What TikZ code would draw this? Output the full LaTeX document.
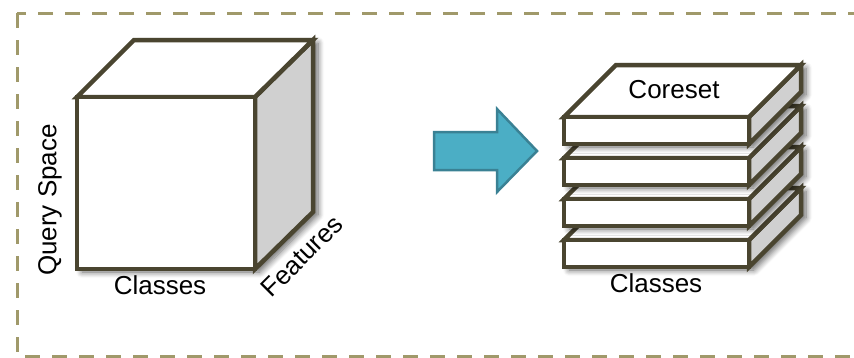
\documentclass[tikz,border=0pt]{standalone}
\usepackage{fontspec}
\setmainfont{Liberation Sans}
\usetikzlibrary{shadows.blur}
\definecolor{edgeol}{HTML}{4A4530}
\definecolor{frameol}{HTML}{A0996A}
\definecolor{sidegray}{HTML}{D0D0D0}
\definecolor{arrowfill}{HTML}{4BAEC5}
\definecolor{arrowedge}{HTML}{3A8194}
\tikzset{
  faceline/.style={draw=edgeol, line width=4.5pt, line join=miter},
  whiteface/.style={faceline, fill=white},
  grayface/.style={faceline, fill=sidegray},
  shadowshape/.style={fill=white, draw=none, blur shadow={shadow xshift=5pt, shadow yshift=-3pt, shadow blur radius=6pt, shadow blur steps=8, shadow opacity=60}},
  lbl/.style={font=\fontsize{26}{31}\selectfont, inner sep=0pt},
}
\begin{document}
\begin{tikzpicture}[x=1pt,y=-1pt]
\useasboundingbox (0,0) rectangle (854,357);
\clip (0,0) rectangle (854,357);
% dashed frame
\draw[frameol, line width=3pt, dash pattern=on 15pt off 12pt] (17,13) rectangle (880,356);
% cube
\path[shadowshape] (77,269) -- (77,97) -- (134,40) -- (313,40) -- (313,212) -- (255,269) -- cycle;
\draw[grayface] (255,97) -- (313,40) -- (313,212) -- (255,269) -- cycle;
\draw[whiteface] (77,97) -- (134,40) -- (313,40) -- (255,97) -- cycle;
\draw[whiteface] (77,97) rectangle (255,269);
\node[lbl, rotate=90] (qs) at (50,200) {Query Space};
\node[lbl] (cl1) at (160,285) {Classes};
\node[lbl, rotate=45] (ft) at (302,256) {Features};
% arrow
\draw[fill=arrowfill, draw=arrowedge, line width=2.5pt, line join=miter] (434,132) -- (497,132) -- (497,109) -- (537,151) -- (497,192) -- (497,170) -- (434,170) -- cycle;
% stack
\foreach \yy in {240,199,158,117}{
  \path[shadowshape] (564,\yy+27) -- (564,\yy) -- (616,\yy-52) -- (801,\yy-52) -- (801,\yy-25) -- (749,\yy+27) -- cycle;
  \draw[grayface] (749,\yy) -- (801,\yy-52) -- (801,\yy-25) -- (749,\yy+27) -- cycle;
  \draw[whiteface] (564,\yy) -- (616,\yy-52) -- (801,\yy-52) -- (749,\yy) -- cycle;
  \draw[whiteface] (564,\yy) rectangle (749,\yy+27);
}
\node[lbl] (cs) at (674,90) {Coreset};
\node[lbl] (cl2) at (656,283) {Classes};
\end{tikzpicture}
\end{document}
